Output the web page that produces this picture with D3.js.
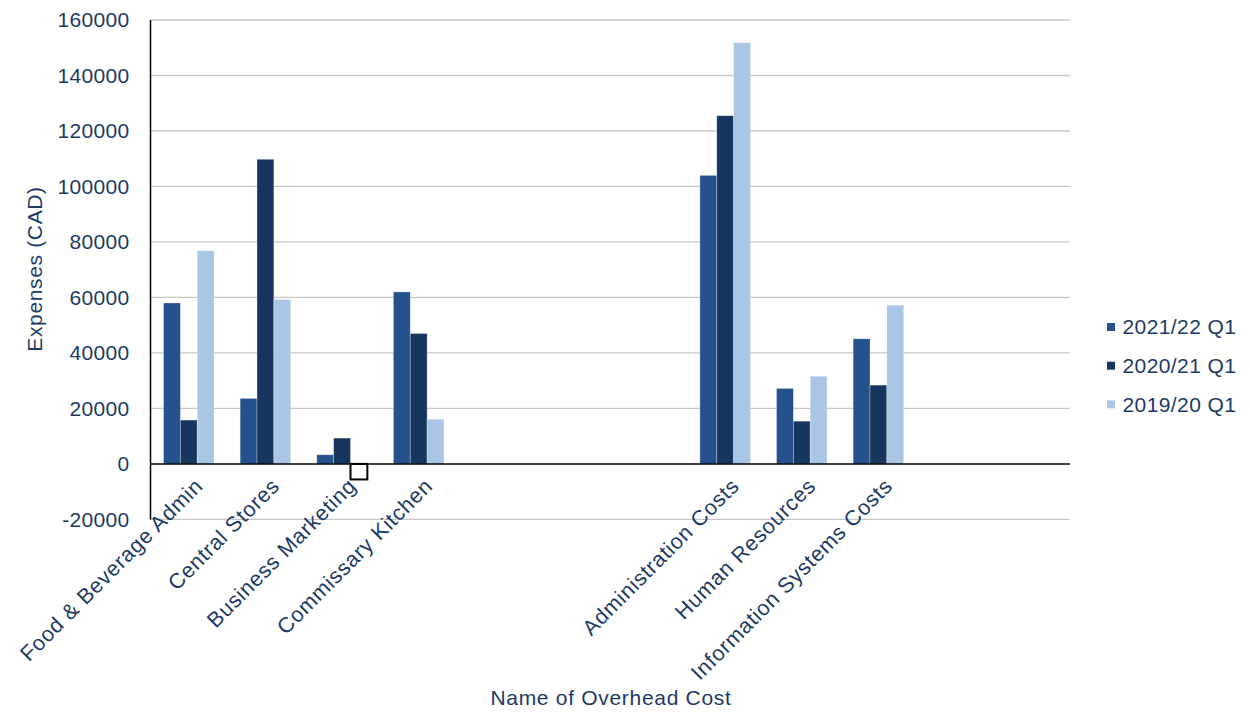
<!DOCTYPE html>
<html>
<head>
<meta charset="utf-8">
<script src="https://cdn.jsdelivr.net/npm/d3@7"></script>
<style>
  html, body { margin: 0; padding: 0; background: #ffffff; }
  svg { display: block; font-family: "Liberation Sans", Arial, Helvetica, sans-serif; }
</style>
</head>
<body>
<svg id="chart" width="1250" height="713"></svg>
<script>
// Overhead cost categories (empty slots keep the gap in the category axis)
const categories = [
  "Food & Beverage Admin", "Central Stores", "Business Marketing", "Commissary Kitchen",
  "", "", "",
  "Administration Costs", "Human Resources", "Information Systems Costs",
  "", ""
];

const seriesNames = ["2021/22 Q1", "2020/21 Q1", "2019/20 Q1"];

const q1_2021_22 = [58000, 23600, 3300, 62000, null, null, null, 104000, 27200, 45100, null, null];
const q1_2020_21 = [15800, 109800, 9300, 47000, null, null, null, 125500, 15400, 28400, null, null];
const q1_2019_20 = [76800, 59300, -5600, 16100, null, null, null, 151800, 31600, 57200, null, null];

const yTicks = [-20000, 0, 20000, 40000, 60000, 80000, 100000, 120000, 140000, 160000];

const seriesColors = ["#25528d", "#17365f", "#a9c6e5"];
const textColor = "#1c3a64";

const series = [q1_2021_22, q1_2020_21, q1_2019_20];

const svg = d3.select("#chart");
const plot = { left: 150.5, right: 1070, top: 20, bottom: 519.4 };

const x = d3.scaleBand()
  .domain(d3.range(categories.length))
  .range([plot.left, plot.right])
  .paddingInner(0.34)
  .paddingOuter(0.17);

const xInner = d3.scaleBand()
  .domain(d3.range(series.length))
  .range([0, x.bandwidth()]);

const y = d3.scaleLinear()
  .domain([yTicks[0], yTicks[yTicks.length - 1]])
  .range([plot.bottom, plot.top]);

// Horizontal gridlines
svg.append("g")
  .selectAll("line")
  .data(yTicks.filter(t => t !== 0))
  .join("line")
  .attr("x1", plot.left)
  .attr("x2", plot.right)
  .attr("y1", d => y(d))
  .attr("y2", d => y(d))
  .attr("stroke", "#c6c6c6")
  .attr("stroke-width", 1.3);

// Y axis tick labels (plain hyphen for negatives)
const yAxis = d3.axisLeft(y)
  .tickValues(yTicks)
  .tickSize(0)
  .tickPadding(21)
  .tickFormat(d => String(d));
const yAxisG = svg.append("g")
  .attr("transform", `translate(${plot.left},0)`)
  .call(yAxis);
yAxisG.select(".domain").remove();
yAxisG.selectAll("text")
  .attr("fill", textColor)
  .attr("font-size", "21px")
  .attr("letter-spacing", "0.3px")
  .attr("font-family", "\"Liberation Sans\", Arial, sans-serif");

// Bars
const groups = svg.append("g")
  .selectAll("g")
  .data(series)
  .join("g");

groups.each(function (vals, si) {
  d3.select(this).selectAll("rect")
    .data(vals.map((v, ci) => ({ v, ci })).filter(d => d.v !== null))
    .join("rect")
    .attr("x", d => x(d.ci) + xInner(si))
    .attr("width", xInner.bandwidth())
    .attr("y", d => y(Math.max(0, d.v)))
    .attr("height", d => Math.abs(y(d.v) - y(0)))
    .attr("fill", d => d.v < 0 ? "#ffffff" : seriesColors[si])
    .attr("stroke", d => d.v < 0 ? "#000000" : "rgba(255,255,255,0.35)")
    .attr("stroke-width", d => d.v < 0 ? 2 : 0.8);
});

// Zero line and left axis line
svg.append("line")
  .attr("x1", plot.left).attr("x2", plot.right)
  .attr("y1", y(0)).attr("y2", y(0))
  .attr("stroke", "#000").attr("stroke-width", 1.5);
svg.append("line")
  .attr("x1", plot.left).attr("x2", plot.left)
  .attr("y1", plot.top).attr("y2", plot.bottom)
  .attr("stroke", "#000").attr("stroke-width", 1.5);

// Category labels, rotated
svg.append("g")
  .selectAll("text")
  .data(categories.map((c, i) => ({ c, i })).filter(d => d.c !== ""))
  .join("text")
  .attr("transform", d => `translate(${x(d.i) + x.bandwidth() / 2 + 10},482) rotate(-45)`)
  .attr("text-anchor", "end")
  .attr("dy", "0.35em")
  .attr("fill", textColor)
  .attr("font-size", "21.5px")
  .attr("letter-spacing", "0.7px")
  .text(d => d.c);

// Axis titles
svg.append("text")
  .attr("transform", "translate(35,269) rotate(-90)")
  .attr("text-anchor", "middle")
  .attr("dy", "0.35em")
  .attr("fill", textColor)
  .attr("font-size", "21px")
  .attr("letter-spacing", "0.65px")
  .text("Expenses (CAD)");

svg.append("text")
  .attr("x", 611)
  .attr("y", 705)
  .attr("text-anchor", "middle")
  .attr("fill", textColor)
  .attr("font-size", "21px")
  .attr("letter-spacing", "0.7px")
  .text("Name of Overhead Cost");

// Legend
const legend = svg.append("g")
  .selectAll("g")
  .data(seriesNames)
  .join("g")
  .attr("transform", (d, i) => `translate(1107,${327 + i * 38.7})`);

legend.append("rect")
  .attr("x", 0).attr("y", -4)
  .attr("width", 8).attr("height", 8)
  .attr("fill", (d, i) => seriesColors[i]);

legend.append("text")
  .attr("x", 15.5)
  .attr("dy", "0.35em")
  .attr("fill", textColor)
  .attr("font-size", "21px")
  .attr("letter-spacing", "0.4px")
  .text(d => d);
</script>
</body>
</html>
